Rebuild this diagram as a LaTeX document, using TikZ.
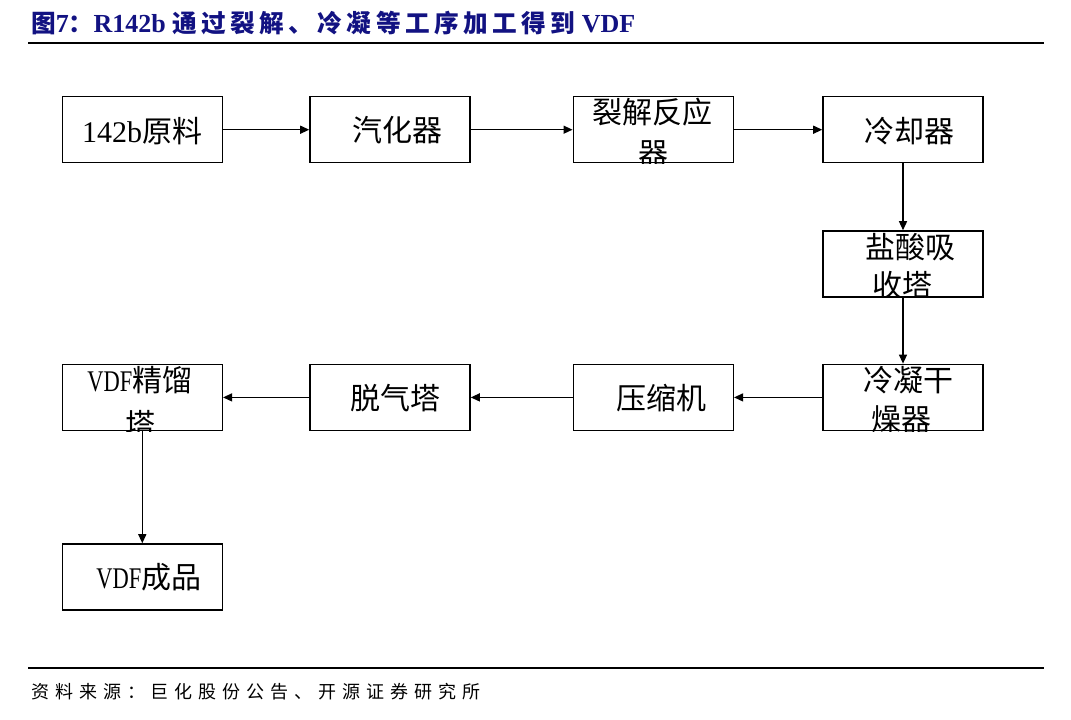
\documentclass[tikz,border=0pt]{standalone}
\usepackage{fontspec}
\setmainfont{Liberation Serif}
\newfontfamily\cjk{Noto Sans CJK SC}
\newfontfamily\cjksrc[LetterSpace=33]{Noto Sans CJK SC}
\newfontfamily\cjkhead[LetterSpace=18]{Noto Sans CJK SC}
\newfontfamily\latn{Liberation Serif}
\newfontfamily\latnarrow[FakeStretch=0.75]{Liberation Serif}
\usetikzlibrary{arrows.meta}
\definecolor{titleblue}{RGB}{18,18,130}
\newcommand\headzh[1]{{\fontsize{18.5}{22}\selectfont\cjkhead\bfseries #1}}
\newcommand\headlat[1]{{\fontsize{19.5}{22}\selectfont\latn\bfseries #1}}
\tikzset{
  procbox/.style={draw=black, line width=1.15pt, minimum width=120pt,
    minimum height=49.5pt, inner sep=0pt},
  lbl/.style={inner sep=0pt, font=\fontsize{22.5}{27}\selectfont\cjk},
  flow/.style={draw=black, line width=0.95pt,
    -{Triangle[length=6.75pt,width=6pt]}},
  rulebar/.style={line width=1.6pt}
}
\begin{document}
\begin{tikzpicture}[x=0.75pt,y=-0.75pt]
\useasboundingbox (0,0) rectangle (1071,719);

% heading and rules
\node[anchor=base west, inner sep=0pt, text=titleblue] (title) at (31,32.5)
  {\headzh{图}\headlat{7}\headzh{：}\headlat{R142b }\headzh{通过裂解、冷凝等工序加工得到}\headlat{\ VDF}};
\coordinate (rt1) at (28,42.7);
\coordinate (rt2) at (1044,42.7);
\coordinate (rb1) at (28,668);
\coordinate (rb2) at (1044,668);
\draw[rulebar] (rt1) -- (rt2);
\draw[rulebar] (rb1) -- (rb2);
\node[anchor=base west, inner sep=0pt, font=\fontsize{13.5}{16}\selectfont\cjksrc] (src) at (31,698)
  {资料来源：巨化股份公告、开源证券研究所};

% process boxes
\node[procbox] (b1) at (142.3,129.7) {};
\node[procbox] (b2) at (390,129.7) {};
\node[procbox] (b3) at (653.3,129.7) {};
\node[procbox] (b4) at (903,129.7) {};
\node[procbox] (b5) at (903,264) {};
\node[procbox] (b6) at (903,397.4) {};
\node[procbox] (b7) at (653.3,397.4) {};
\node[procbox] (b8) at (390,397.4) {};
\node[procbox] (b9) at (142.3,397.4) {};
\node[procbox] (b10) at (142.3,577) {};

% labels
\node[lbl] (t1) at (142,131) {{\latn 142b}原料};
\node[lbl] (t2) at (397,130.5) {汽化器};
\node[lbl] (t3a) at (652,112.5) {裂解反应};
\begin{scope}
  \clip (b3.south west) rectangle (b3.north east);
  \node[lbl] (t3b) at (653.5,154) {器};
\end{scope}
\node[lbl] (t4) at (909,131) {冷却器};
\node[lbl] (t5a) at (910,247.5) {盐酸吸};
\begin{scope}
  \clip (b5.south west) rectangle (b5.north east);
  \node[lbl] (t5b) at (902,285.5) {收塔};
\end{scope}
\node[lbl] (t6a) at (908,380.5) {冷凝干};
\begin{scope}
  \clip (b6.south west) rectangle (b6.north east);
  \node[lbl] (t6b) at (901,419) {燥器};
\end{scope}
\node[lbl] (t7) at (661.5,398.5) {压缩机};
\node[lbl] (t8) at (395,398.5) {脱气塔};
\node[lbl] (t9a) at (140,380.5) {{\latnarrow VDF}精馏};
\begin{scope}
  \clip (b9.south west) rectangle (b9.north east);
  \node[lbl] (t9b) at (140,424) {塔};
\end{scope}
\node[lbl] (t10) at (149,577) {{\latnarrow VDF}成品};

% flow
\draw[flow] (b1) -- (b2);
\draw[flow] (b2) -- (b3);
\draw[flow] (b3) -- (b4);
\draw[flow] (b4) -- (b5);
\draw[flow] (b5) -- (b6);
\draw[flow] (b6) -- (b7);
\draw[flow] (b7) -- (b8);
\draw[flow] (b8) -- (b9);
\draw[flow] (b9) -- (b10);
\end{tikzpicture}
\end{document}
